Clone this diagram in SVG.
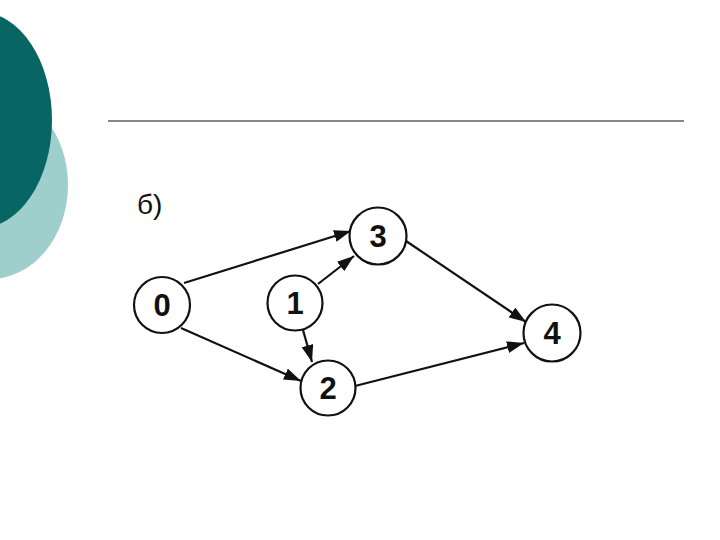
<svg xmlns="http://www.w3.org/2000/svg" width="720" height="540" viewBox="0 0 720 540">
<defs>
<style>
.node circle{fill:#fff;stroke:#111;stroke-width:2.2}
.node text{font-family:"Liberation Sans",Arial,sans-serif;font-size:31px;font-weight:bold;fill:#111;text-anchor:middle}
.edge{stroke:#111;stroke-width:2.2;fill:none;marker-end:url(#arr)}
</style>
<marker id="arr" markerUnits="userSpaceOnUse" markerWidth="18" markerHeight="12" refX="17" refY="6" orient="auto">
<path d="M0,0 L17,6 L0,12 Z" fill="#111"/>
</marker>
</defs>
<rect width="720" height="540" fill="#fff"/>
<g id="decor">
<ellipse cx="-10" cy="185" rx="78" ry="94" fill="#9ecfcc"/>
<ellipse cx="-20" cy="120" rx="72" ry="108" fill="#076663"/>
<line x1="108" y1="121" x2="684" y2="121" stroke="#111" stroke-width="1.2"/>
</g>
<text x="137" y="214" font-family="'Liberation Sans',Arial,sans-serif" font-size="28" fill="#111">б)</text>
<g id="connectors">
<line class="edge" x1="184" y1="283" x2="351" y2="231"/>
<line class="edge" x1="318" y1="284" x2="354" y2="256"/>
<line class="edge" x1="303" y1="330" x2="312" y2="362"/>
<line class="edge" x1="181" y1="328" x2="301" y2="381"/>
<line class="edge" x1="406" y1="241" x2="526" y2="322"/>
<line class="edge" x1="355" y1="386" x2="524" y2="343"/>
</g>
<g id="node0" class="node"><circle cx="162" cy="305" r="28"/><text x="162" y="316">0</text></g>
<g id="node1" class="node"><circle cx="295" cy="303" r="27.5"/><text x="295" y="314">1</text></g>
<g id="node2" class="node"><circle cx="328" cy="388" r="27.5"/><text x="328" y="399">2</text></g>
<g id="node3" class="node"><circle cx="378" cy="236" r="28.5"/><text x="378" y="247">3</text></g>
<g id="node4" class="node"><circle cx="552" cy="333" r="28.5"/><text x="552" y="344">4</text></g>
</svg>
